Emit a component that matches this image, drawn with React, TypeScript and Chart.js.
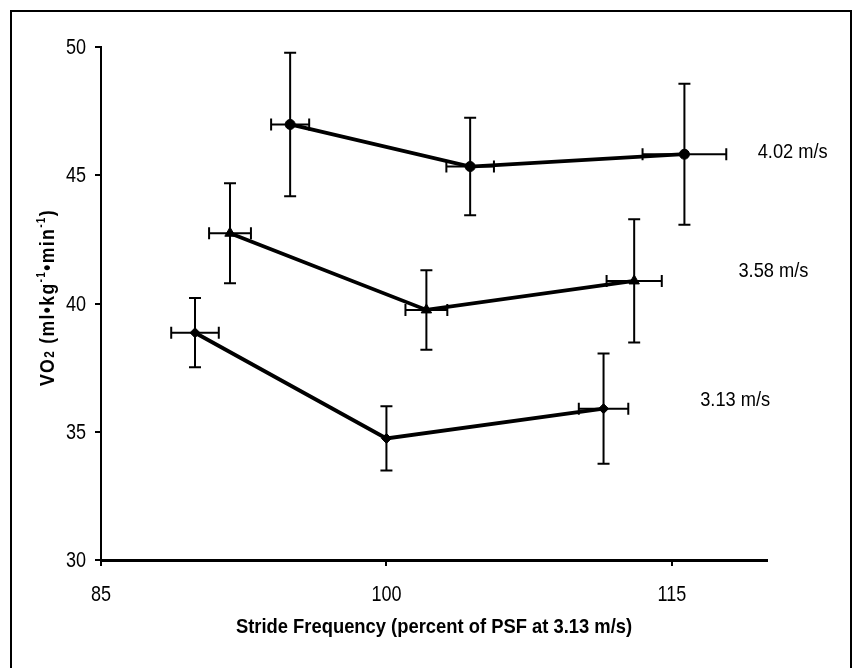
import React, { useEffect, useRef } from 'react';
import { Chart, registerables } from 'chart.js';

Chart.register(...registerables);

// ---- data ----
const speedLabels = ['4.02 m/s', '3.58 m/s', '3.13 m/s'];
const sf402 = [94.94, 104.4, 115.66];
const vo402 = [46.98, 45.34, 45.82];
const sfErr402 = [1.0, 1.25, 2.2];
const voErr402 = [2.8, 1.9, 2.75];

const sf358 = [91.78, 102.1, 113.02];
const vo358 = [42.74, 39.75, 40.88];
const sfErr358 = [1.1, 1.1, 1.45];
const voErr358 = [1.95, 1.55, 2.4];

const sf313 = [89.94, 100.0, 111.41];
const vo313 = [38.86, 34.74, 35.9];
const sfErr313 = [1.25, 0, 1.3];
const voErr313 = [1.35, 1.25, 2.15];

const labelX = [121.35, 120.34, 118.33];
const labelY = [45.9, 41.24, 36.24];

const xTicks = [85, 100, 115];
const yTicks = [30, 35, 40, 45, 50];

const xTitle = 'Stride Frequency (percent of PSF at 3.13 m/s)';

const FONT = "'Liberation Sans', Arial, sans-serif";
const SQUEEZE = 0.82;

const sfSeries = [sf402, sf358, sf313];
const voSeries = [vo402, vo358, vo313];
const sfErrSeries = [sfErr402, sfErr358, sfErr313];
const voErrSeries = [voErr402, voErr358, voErr313];
const markerStyles = ['circle', 'triangle', 'rectRot'];
const markerRadius = [5, 6, 5];

const errorBarPlugin = {
  id: 'errorBars',
  beforeDatasetsDraw(chart: any) {
    const { ctx, scales } = chart;
    const xs = scales.x;
    const ys = scales.y;
    ctx.save();
    ctx.strokeStyle = '#000';
    ctx.lineWidth = 2;
    const cap = 6;
    for (let s = 0; s < sfSeries.length; s++) {
      for (let i = 0; i < sfSeries[s].length; i++) {
        const x = sfSeries[s][i];
        const y = voSeries[s][i];
        const px = xs.getPixelForValue(x);
        const py = ys.getPixelForValue(y);
        const ve = voErrSeries[s][i];
        const he = sfErrSeries[s][i];
        if (ve > 0) {
          const t = ys.getPixelForValue(y + ve);
          const b = ys.getPixelForValue(y - ve);
          ctx.beginPath();
          ctx.moveTo(px, t);
          ctx.lineTo(px, b);
          ctx.moveTo(px - cap, t);
          ctx.lineTo(px + cap, t);
          ctx.moveTo(px - cap, b);
          ctx.lineTo(px + cap, b);
          ctx.stroke();
        }
        if (he > 0) {
          const l = xs.getPixelForValue(x - he);
          const r = xs.getPixelForValue(x + he);
          ctx.beginPath();
          ctx.moveTo(l, py);
          ctx.lineTo(r, py);
          ctx.moveTo(l, py - cap);
          ctx.lineTo(l, py + cap);
          ctx.moveTo(r, py - cap);
          ctx.lineTo(r, py + cap);
          ctx.stroke();
        }
      }
    }
    ctx.restore();
  },
};

function squeezedText(ctx: any, text: string, x: number, y: number, font: string, align: string, sx: number) {
  ctx.save();
  ctx.translate(x, y);
  ctx.scale(sx, 1);
  ctx.font = font;
  ctx.textAlign = align;
  ctx.textBaseline = 'middle';
  ctx.fillText(text, 0, 0);
  ctx.restore();
}

const textPlugin = {
  id: 'texts',
  afterDraw(chart: any) {
    const { ctx, scales, chartArea } = chart;
    ctx.save();
    ctx.fillStyle = '#000';
    // y tick labels
    for (const v of yTicks) {
      squeezedText(ctx, String(v), chartArea.left - 15, scales.y.getPixelForValue(v) + 1, `22px ${FONT}`, 'right', SQUEEZE);
    }
    // x tick labels
    for (const v of xTicks) {
      squeezedText(ctx, String(v), scales.x.getPixelForValue(v), 595, `22px ${FONT}`, 'center', SQUEEZE);
    }
    // speed labels
    for (let i = 0; i < speedLabels.length; i++) {
      squeezedText(ctx, speedLabels[i], scales.x.getPixelForValue(labelX[i]), scales.y.getPixelForValue(labelY[i]), `21px ${FONT}`, 'center', 0.87);
    }
    // x title
    squeezedText(ctx, xTitle, (chartArea.left + chartArea.right) / 2, 627, `bold 21px ${FONT}`, 'center', 0.875);
    // y title (rotated, with sub/superscripts)
    const pieces = [
      { t: 'VO', size: 21, dy: 0 },
      { t: '2', size: 14, dy: 0 },
      { t: ' (ml\u2022kg', size: 21, dy: 0 },
      { t: '-1', size: 12, dy: -9 },
      { t: '\u2022min', size: 21, dy: 0 },
      { t: '-1', size: 12, dy: -9 },
      { t: ')', size: 21, dy: 0 },
    ];
    ctx.translate(46, (chartArea.top + chartArea.bottom) / 2 - 6);
    ctx.rotate(-Math.PI / 2);
    ctx.scale(0.84, 1);
    ctx.textAlign = 'left';
    ctx.textBaseline = 'alphabetic';
    (ctx as any).letterSpacing = '1.6px';
    let total = 0;
    const widths: number[] = [];
    for (const p of pieces) {
      ctx.font = `bold ${p.size}px ${FONT}`;
      const w = ctx.measureText(p.t).width;
      widths.push(w);
      total += w;
    }
    let cx = -total / 2;
    const base = 8;
    pieces.forEach((p, i) => {
      ctx.font = `bold ${p.size}px ${FONT}`;
      ctx.fillText(p.t, cx, base + p.dy);
      cx += widths[i];
    });
    ctx.restore();
  },
};

export default function App() {
  const ref = useRef<HTMLCanvasElement | null>(null);

  useEffect(() => {
    if (!ref.current) return;
    const datasets = sfSeries.map((sf, s) => ({
      label: speedLabels[s],
      data: sf.map((x, i) => ({ x, y: voSeries[s][i] })),
      borderColor: '#000',
      backgroundColor: '#000',
      borderWidth: 3.8,
      pointStyle: markerStyles[s] as any,
      pointRadius: markerRadius[s],
      pointBorderWidth: 1,
      showLine: true,
      tension: 0,
    }));
    const chart = new Chart(ref.current, {
      type: 'scatter',
      data: { datasets },
      plugins: [errorBarPlugin, textPlugin],
      options: {
        animation: false,
        responsive: false,
        layout: { padding: { left: 0, right: 87, top: 47, bottom: 48 } },
        plugins: { legend: { display: false }, tooltip: { enabled: false } },
        scales: {
          x: {
            type: 'linear',
            min: 85,
            max: 120,
            afterBuildTicks: (axis: any) => {
              axis.ticks = xTicks.map((v) => ({ value: v }));
            },
            afterFit: (scale: any) => {
              scale.height = 60;
            },
            grid: { drawOnChartArea: false, drawTicks: true, tickLength: 6, color: '#000', lineWidth: 2 },
            border: { display: true, color: '#000', width: 3 },
            ticks: { color: 'rgba(0,0,0,0)', font: { family: FONT, size: 20 }, padding: 12, maxRotation: 0 },
          },
          y: {
            type: 'linear',
            min: 30,
            max: 50,
            afterBuildTicks: (axis: any) => {
              axis.ticks = yTicks.map((v) => ({ value: v }));
            },
            afterFit: (scale: any) => {
              scale.width = 101;
            },
            grid: { drawOnChartArea: false, drawTicks: true, tickLength: 6, color: '#000', lineWidth: 2 },
            border: { display: true, color: '#000', width: 2 },
            ticks: { color: 'rgba(0,0,0,0)', font: { family: FONT, size: 20 }, padding: 8 },
          },
        },
      },
    });
    return () => chart.destroy();
  }, []);

  return (
    <div style={{ position: 'fixed', left: 0, top: 0, width: 854, height: 668, overflow: 'hidden', background: '#fff' }}>
      <div
        style={{
          position: 'absolute',
          left: 10,
          top: 10,
          width: 838,
          height: 700,
          border: '2px solid #000',
        }}
      />
      <canvas ref={ref} width={854} height={668} style={{ position: 'absolute', left: 0, top: 0 }} />
    </div>
  );
}
